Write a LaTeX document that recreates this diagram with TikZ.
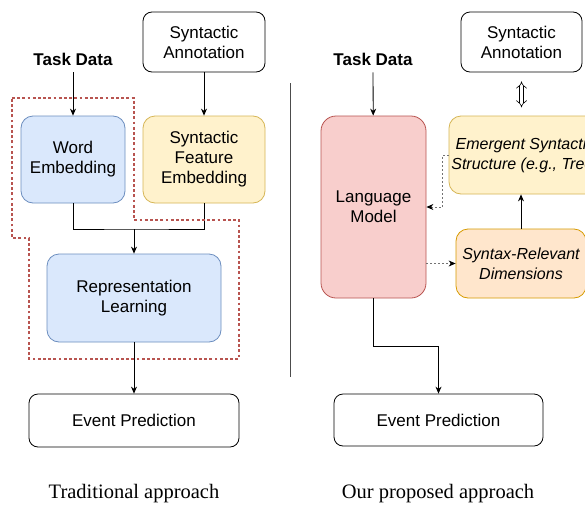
\documentclass[tikz,border=0pt]{standalone}
\usepackage{fontspec}
\setmainfont{Liberation Sans}
\newfontfamily\capfont{Liberation Serif}
\usetikzlibrary{arrows.meta}

\definecolor{blueFill}{HTML}{DAE8FC}
\definecolor{blueLine}{HTML}{6C8EBF}
\definecolor{yellowFill}{HTML}{FFF2CC}
\definecolor{yellowLine}{HTML}{D6B656}
\definecolor{orangeFill}{HTML}{FFE6CC}
\definecolor{orangeLine}{HTML}{D79B00}
\definecolor{redFill}{HTML}{F8CECC}
\definecolor{redLine}{HTML}{B85450}

\tikzset{
  box/.style={draw, rounded corners=12, line width=0.8, align=center,
    inner sep=0, font=\fontsize{17}{20}\selectfont},
  plainbox/.style={box, rounded corners=9, draw=black},
  bluebox/.style={box, fill=blueFill, draw=blueLine},
  yellowbox/.style={box, fill=yellowFill, draw=yellowLine},
  orangebox/.style={box, fill=orangeFill, draw=orangeLine},
  redbox/.style={box, rounded corners=15, fill=redFill, draw=redLine},
  label/.style={font=\bfseries\fontsize{17}{20}\selectfont, inner sep=7},
  caption/.style={font=\capfont\fontsize{20.5}{24}\selectfont},
  arr/.style={-{Stealth[length=7, width=6]}, line width=0.8},
  dasharr/.style={-{Stealth[length=7, width=6, black]}, line width=0.8,
    draw=black!55, dash pattern=on 2 off 2}
}

\begin{document}
\begin{tikzpicture}[x=1pt, y=-1pt]
  \clip (0,0) rectangle (585,506);
  \fill[white] (0,0) rectangle (585,506);

  %Traditional approach
  \node[label] (taskL) at (73,59) {Task Data};
  \node[plainbox, minimum width=122, minimum height=60] (annoL) at (204,42) {Syntactic\\Annotation};
  \node[bluebox, minimum width=104, minimum height=87] (wordL) at (73,159.5) {Word\\Embedding};
  \node[yellowbox, minimum width=122, minimum height=87] (featL) at (204,159.5) {Syntactic\\Feature\\Embedding};
  \node[bluebox, minimum width=174, minimum height=88] (repL) at (134,298) {Representation\\Learning};
  \node[plainbox, minimum width=210, minimum height=53] (predL) at (134,420.5) {Event Prediction};
  \node[caption] (capL) at (134,494) {Traditional approach};
  \coordinate (joinL) at (134,229);

  % Connect the nodes
  \draw[arr] (taskL) -- (wordL);
  \draw[arr] (annoL) -- (featL);
  \draw[line width=0.8] (wordL.south) |- (joinL) -| (featL.south);
  \draw[arr] (joinL) -- (repL);
  \draw[arr] (repL) -- (predL);

  % dotted outline round the embedding part
  \draw[redLine, line width=2.8, dash pattern=on 2.8 off 2.4]
    (12,98) -- (134,98) -- (134,220) -- (239,220) -- (239,359)
    -- (29,359) -- (29,238) -- (12,238) -- cycle;

  % divider
  \draw[black!70, line width=0.8] (290,83) -- (290,377);

  %Our proposed approach
  \node[label] (taskR) at (373,59) {Task Data};
  \node[plainbox, minimum width=121, minimum height=60] (annoR) at (521.5,42) {Syntactic\\Annotation};
  \node[redbox, minimum width=105, minimum height=182] (lmR) at (373.5,207) {Language\\Model};
  \node[yellowbox, minimum width=152, minimum height=78,
    font=\itshape\fontsize{16}{20}\selectfont] (treeR) at (525,155) {Emergent Syntactic\\Structure (e.g., Tree)};
  \node[orangebox, minimum width=130, minimum height=69,
    font=\itshape\fontsize{16}{20}\selectfont] (dimsR) at (521,263.5) {Syntax-Relevant\\Dimensions};
  \node[plainbox, minimum width=209, minimum height=52] (predR) at (438.5,420) {Event Prediction};
  \node[caption] (capR) at (438,494) {Our proposed approach};

  % Connect the nodes
  \draw[arr] (taskR) -- (lmR);
  \draw[arr] (lmR.south) -- ++(0,48) -| (predR.north);
  \draw[arr] (dimsR.north) -- (dimsR.north |- treeR.south);
  \draw[line width=0.6, double=white, double distance=3.2,
    {Implies[length=6]}-{Implies[length=6]}] ([yshift=-9]annoR.south) -- ++(0,26);
  \draw[dasharr] (treeR.west) -- ++(-6,0) |- (lmR.east);
  \draw[dasharr] (lmR.east |- dimsR.west) -- (dimsR.west);

\end{tikzpicture}
\end{document}
